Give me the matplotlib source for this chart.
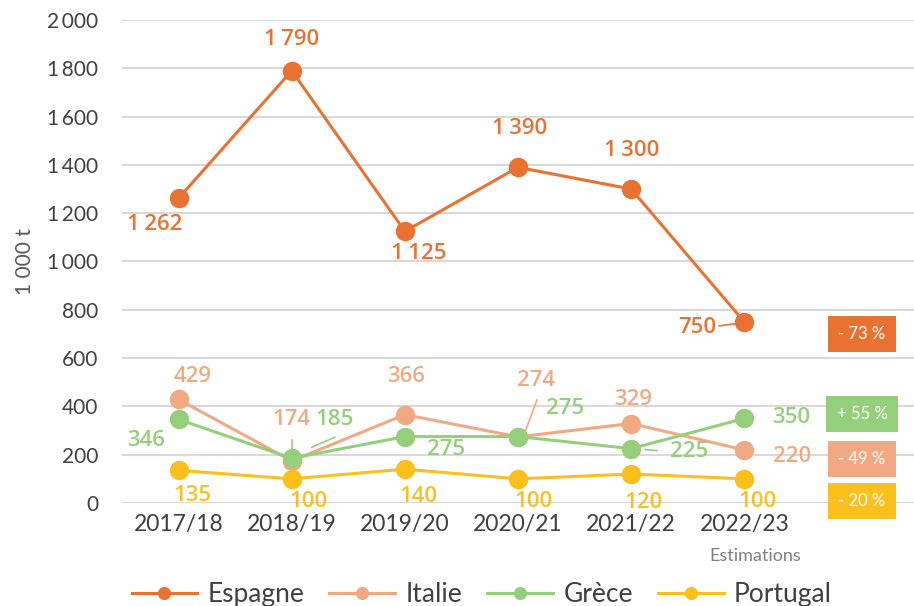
import matplotlib
matplotlib.use("Agg")
import matplotlib.pyplot as plt
from matplotlib.ticker import FuncFormatter

categories = ["2017/18", "2018/19", "2019/20", "2020/21", "2021/22", "2022/23"]
espagne = [1262, 1790, 1125, 1390, 1300, 750]
italie = [429, 174, 366, 274, 329, 220]
grece = [346, 185, 275, 275, 225, 350]
portugal = [135, 100, 140, 100, 120, 100]
yticks = [0, 200, 400, 600, 800, 1000, 1200, 1400, 1600, 1800, 2000]
changes = ["- 73 %", "+ 55 %", "- 49 %", "- 20 %"]
change_y = [700, 368, 182, 8]

c_esp = "#E97132"
c_ita = "#F1A983"
c_gre = "#94CF7C"
c_por = "#FBBF1E"

fig = plt.figure(figsize=(9.14, 6.06), dpi=100)
ax = fig.add_axes([0.1335, 0.17, 0.8665, 0.797])

x = list(range(len(categories)))
series = [("Espagne", espagne, c_esp), ("Italie", italie, c_ita),
          ("Grèce", grece, c_gre), ("Portugal", portugal, c_por)]
for name, vals, col in series:
    ax.plot(x, vals, color=col, lw=2.2, marker="o", ms=13, label=name,
            clip_on=False, zorder=3)

ax.set_xlim(-0.5, 6.5)
ax.set_ylim(0, 2000)
ax.set_yticks(yticks)
ax.yaxis.set_major_formatter(FuncFormatter(lambda v, p: f"{int(v):,}".replace(",", "\u2009")))
ax.set_xticks(x)
ax.set_xticklabels(categories)
ax.grid(axis="y", color="#d9d9d9", lw=1.5, zorder=0)
for s in ax.spines.values():
    s.set_visible(False)
ax.tick_params(length=0, labelcolor="#404040", pad=8)
ax.tick_params(axis="x", labelsize=16.5)
ax.tick_params(axis="y", labelsize=15, pad=17)
for lab in ax.get_yticklabels() + ax.get_xticklabels():
    lab.set_fontfamily("Lato")
ax.set_ylabel("1 000 t", fontsize=15, color="#595959", family="Lato", labelpad=9)

ax.text(5.1, -218, "Estimations", ha="center", va="center", fontsize=13,
        color="#808080", family="Lato")

# data labels: (dx, dy) in pixels from the point
offsets = {
    "Espagne": [(-24, -26), (0, 31), (14, -22), (2, 39), (1, 39), (-47, -6)],
    "Italie": [(14, 23), (0, 41), (1, 38), (18, 56), (2, 24), (48, -7)],
    "Grèce": [(-33, -21), (43, 39), (41, -13), (47, 28), (58, -3), (47, 1)],
    "Portugal": [(14, -25), (17, -23), (14, -27), (15, -23), (12, -28), (13, -23)],
}
for name, vals, col in series:
    for i, v in enumerate(vals):
        dx, dy = offsets[name][i]
        txt = f"{v:,}".replace(",", "\u2009")
        ax.annotate(txt, (i, v), xytext=(dx, dy), textcoords="offset pixels",
                    ha="center", va="center", fontsize=16, color=col,
                    fontweight="semibold", family="Open Sans", zorder=4)


def seg(i, v, p0, p1, col):
    xp, yp = ax.transData.transform((i, v))
    inv = ax.transData.inverted()
    a = inv.transform((xp + p0[0], yp + p0[1]))
    b = inv.transform((xp + p1[0], yp + p1[1]))
    ax.plot([a[0], b[0]], [a[1], b[1]], color=col, lw=1.2, zorder=2, clip_on=False)

fig.canvas.draw()
seg(5, 750, (-25, -4), (-10, -2), c_esp)
seg(1, 174, (0, 21), (0, 2), c_ita)
seg(3, 274, (19, 37), (6, 2), c_ita)
seg(1, 185, (43, 21), (20, 11), c_gre)
seg(4, 225, (14, -1), (26, -2), c_gre)

for lab, yv, col in zip(changes, change_y, [c_esp, c_gre, c_ita, c_por]):
    ax.text(6.04, yv, lab, ha="center", va="center", fontsize=12, color="white",
            family="Lato",
            bbox=dict(boxstyle="square,pad=0.62", fc=col, ec="none"), zorder=5)

leg = fig.legend(loc="center", bbox_to_anchor=(0.527, 0.019), ncol=4, frameon=False,
                 prop={"family": "Lato", "size": 19}, handlelength=2.5,
                 columnspacing=0.95, handletextpad=0.38, markerscale=0.65)
for t in leg.get_texts():
    t.set_color("#404040")

fig.savefig("out.png", dpi=100)
